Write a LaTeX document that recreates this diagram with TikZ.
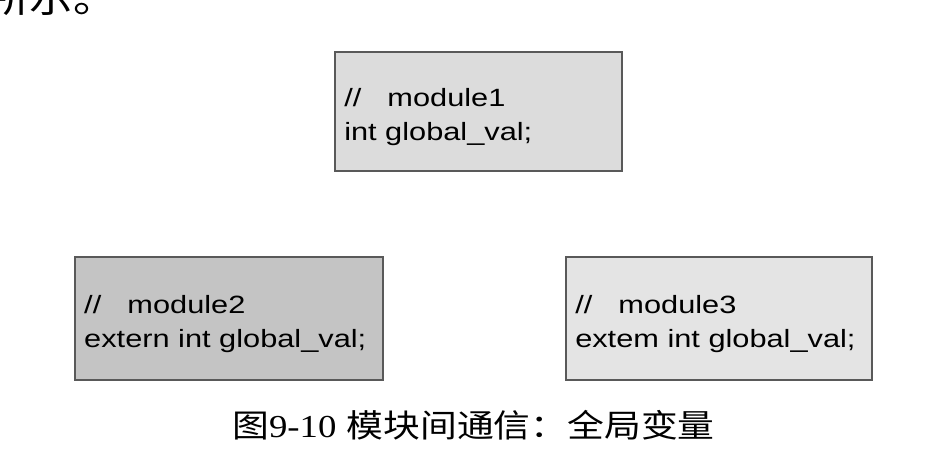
\documentclass[tikz,border=0pt]{standalone}
\usepackage{fontspec}
\setmainfont{Liberation Sans}
\newfontfamily\cjk{Noto Sans CJK SC}
\newfontfamily\capserif{Liberation Serif}
\usetikzlibrary{positioning}
\definecolor{boxlight}{RGB}{220,220,220}
\definecolor{boxdark}{RGB}{196,196,196}
\definecolor{boxpale}{RGB}{228,228,228}
\tikzset{
  modbox/.style={draw=black!65, line width=1.6pt},
  codeline/.style={anchor=base west, inner sep=0pt, xscale=1.23,
    font=\fontsize{25}{30}\selectfont},
  captext/.style={anchor=base west, inner sep=0pt, xscale=1.15,
    font=\fontsize{32}{36}\selectfont}
}

\begin{document}
\begin{tikzpicture}[x=1pt,y=-1pt]
\useasboundingbox (0,0) rectangle (928,456);
% text cut off at the top of the page
\node[captext, font=\fontsize{38}{40}\selectfont] (prev) at (-14,12) {\cjk 所示。};
% module boxes
\draw[modbox, fill=boxlight] (335,52) rectangle (622,171);
\draw[modbox, fill=boxdark] (75,257) rectangle (383,380);
\draw[modbox, fill=boxpale] (566,257) rectangle (872,380);
% module 1
\node[codeline] (m1a) at (344,106) {//\hspace{0.85em}module1};
\node[codeline] (m1b) at (344,140) {int global\_val;};
% module 2
\node[codeline] (m2a) at (84,313) {//\hspace{0.85em}module2};
\node[codeline] (m2b) at (84,347) {extern int global\_val;};
% module 3
\node[codeline] (m3a) at (575,313) {//\hspace{0.85em}module3};
\node[codeline] (m3b) at (575,347) {extem int global\_val;};
% caption
\node[captext] (cap) at (232,437) {{\cjk 图}{\capserif 9-10} {\cjk 模块间通信：全局变量}};
\end{tikzpicture}
\end{document}
